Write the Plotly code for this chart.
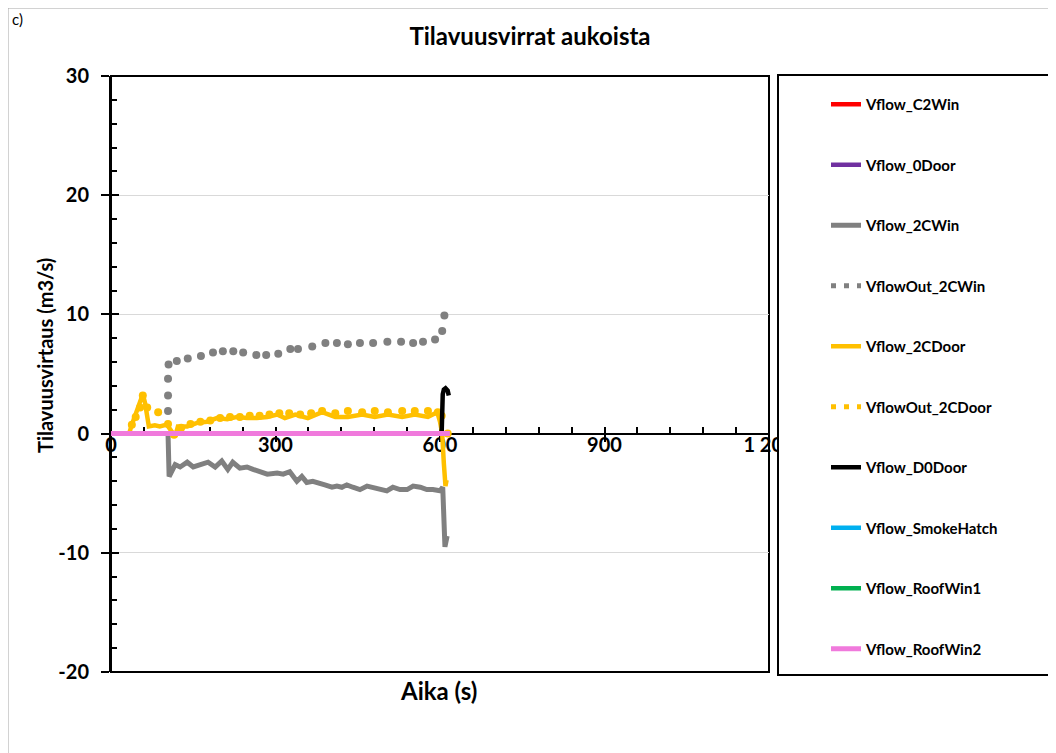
import plotly.graph_objects as go

# ---------------- data ----------------
t_zero = [0, 615]
v_zero = [0, 0]

t_2CWin = [0, 104, 106, 117, 126, 139, 150, 162, 177, 190, 202, 213, 222, 235, 248, 259,
           272, 285, 303, 314, 326, 339, 348, 357, 368, 378, 390, 403, 412, 421, 430, 441,
           454, 467, 478, 491, 503, 514, 527, 540, 551, 564, 576, 587, 600, 605, 607, 609, 613]
v_2CWin = [0, 0, -3.6, -2.6, -2.8, -2.4, -2.8, -2.6, -2.4, -2.8, -2.3, -3.0, -2.4, -2.9, -2.8, -3.0,
           -3.2, -3.4, -3.3, -3.4, -3.2, -4.0, -3.6, -4.1, -4.0, -4.1, -4.3, -4.5, -4.4, -4.5, -4.3, -4.5,
           -4.7, -4.4, -4.5, -4.7, -4.8, -4.5, -4.7, -4.7, -4.4, -4.5, -4.7, -4.7, -4.8, -4.5, -8.0, -9.5, -8.6]

t_Out2CWin = [104, 104, 104, 105, 120, 140, 164, 186, 204, 223, 241, 265, 283, 305, 327, 341,
              367, 391, 412, 432, 454, 478, 504, 529, 551, 569, 591, 604, 608]
v_Out2CWin = [1.9, 3.2, 4.6, 5.8, 6.1, 6.3, 6.5, 6.8, 6.9, 6.9, 6.8, 6.6, 6.6, 6.7, 7.1, 7.1,
              7.3, 7.6, 7.6, 7.5, 7.6, 7.6, 7.7, 7.7, 7.6, 7.7, 7.9, 8.6, 9.9]

t_2CDoor = [0, 33, 38, 47, 58, 62, 66, 69, 80, 89, 102, 108, 117, 122, 139, 157, 175, 193, 212,
            230, 248, 266, 285, 303, 317, 336, 359, 385, 409, 432, 458, 481, 505, 531, 554, 578,
            595, 600, 604, 607, 610, 612]
v_2CDoor = [0, 0, 0.75, 2.0, 3.3, 2.6, 1.6, 0.6, 0.7, 0.6, 0.75, 0.3, -0.25, 0.6, 0.6, 0.9, 1.0, 1.3, 1.2,
            1.4, 1.3, 1.3, 1.4, 1.6, 1.3, 1.6, 1.3, 1.8, 1.4, 1.4, 1.6, 1.4, 1.6, 1.4, 1.6, 1.4,
            1.8, 1.0, 0.0, -2.5, -4.4, -3.9]

t_Out2CDoor = [38, 45, 53, 58, 66, 86, 104, 115, 128, 145, 163, 181, 199, 217, 235, 253, 271, 289,
               307, 325, 345, 365, 385, 409, 432, 458, 481, 505, 531, 554, 578, 596, 603, 614]
v_Out2CDoor = [0.75, 1.4, 2.2, 3.2, 2.2, 1.8, 0.8, -0.1, 0.5, 0.8, 1.0, 1.1, 1.3, 1.4, 1.4, 1.5, 1.5, 1.6,
               1.7, 1.7, 1.6, 1.7, 1.9, 1.7, 1.9, 1.8, 1.9, 1.8, 1.9, 1.9, 1.9, 1.8, 1.5, 0.0]

t_D0Door = [0, 603, 605, 607, 610, 614, 616]
v_D0Door = [0, 0, 3.3, 3.7, 3.8, 3.6, 3.2]

t_RoofWin2 = [0, 618]
v_RoofWin2 = [0, 0]

x_tickvals = [0, 300, 600, 900, 1200]
x_ticktext = ["0", "300", "600", "900", "1 200"]
y_tickvals = [-20, -10, 0, 10, 20, 30]
y_ticktext = ["-20", "-10", "0", "10", "20", "30"]

# ---------------- figure ----------------
FONT = "Lato, 'Open Sans', sans-serif"
# the page body adds an 8px offset; the figure is sized so it ends at the window edge
W, H, OFF = 1048, 745, 8
fig = go.Figure()

def line_trace(name, t, v, color, width=4.5):
    fig.add_trace(go.Scatter(x=t, y=v, mode="lines", name=name,
                             line=dict(color=color, width=width),
                             legendgroup=name, hoverinfo="skip"))

def dot_trace(name, t, v, color):
    fig.add_trace(go.Scatter(x=t, y=v, mode="markers", name=name, showlegend=False,
                             marker=dict(color=color, size=8), legendgroup=name, hoverinfo="skip"))
    fig.add_trace(go.Scatter(x=[None], y=[None], mode="lines", name=name,
                             line=dict(color=color, width=5, dash="5px,8px"),
                             legendgroup=name))

line_trace("Vflow_C2Win", t_zero, v_zero, "#FF0000")
line_trace("Vflow_0Door", t_zero, v_zero, "#7030A0")
line_trace("Vflow_2CWin", t_2CWin, v_2CWin, "#808080", width=5)
dot_trace("VflowOut_2CWin", t_Out2CWin, v_Out2CWin, "#808080")
line_trace("Vflow_2CDoor", t_2CDoor, v_2CDoor, "#FFC000")
dot_trace("VflowOut_2CDoor", t_Out2CDoor, v_Out2CDoor, "#FFC000")
line_trace("Vflow_D0Door", t_D0Door, v_D0Door, "#000000")
line_trace("Vflow_SmokeHatch", t_zero, v_zero, "#00B0F0")
line_trace("Vflow_RoofWin1", t_zero, v_zero, "#00B050")
line_trace("Vflow_RoofWin2", t_RoofWin2, v_RoofWin2, "#F07ADC", width=5)

# dummy traces to create the overlay axes (inner halves of crossing ticks)
fig.add_trace(go.Scatter(x=[None], y=[None], xaxis="x2", yaxis="y", showlegend=False, hoverinfo="skip"))
fig.add_trace(go.Scatter(x=[None], y=[None], xaxis="x", yaxis="y2", showlegend=False, hoverinfo="skip"))

tickfont = dict(family=FONT, size=20, color="black", weight="bold")

fig.update_layout(
    width=W, height=H,
    margin=dict(l=111 - OFF, r=W - (769 - OFF), t=76 - OFF, b=H - (672 - OFF), autoexpand=False),
    paper_bgcolor="white", plot_bgcolor="white",
    title=dict(text="<b>Tilavuusvirrat aukoista</b>", x=(530 - OFF) / W, xref="container", xanchor="center",
               y=1 - (37 - OFF) / H, yref="container", yanchor="middle",
               font=dict(family=FONT, size=24, color="black")),
    xaxis=dict(range=[0, 1200], anchor="free", position=0.4, showline=True, linecolor="black",
               linewidth=2, ticks="outside", ticklen=7, tickwidth=2, tickcolor="black",
               tickmode="array", tickvals=x_tickvals, ticktext=x_ticktext, tickfont=tickfont,
               ticklabelstandoff=-14, layer="below traces",
               minor=dict(dtick=60, tick0=0, ticks="inside", ticklen=6, tickwidth=1.5, tickcolor="black"),
               showgrid=False, zeroline=False, fixedrange=True),
    xaxis2=dict(range=[0, 1200], overlaying="x", anchor="free", position=0.4, side="bottom",
                tickmode="array", tickvals=x_tickvals, ticks="inside", ticklen=7, tickwidth=2,
                tickcolor="black", showticklabels=False, showline=False, showgrid=False, zeroline=False,
                layer="below traces"),
    yaxis=dict(range=[-20, 30], tickmode="array", tickvals=y_tickvals, ticktext=y_ticktext,
               showline=True, linecolor="black",
               linewidth=2, ticks="outside", ticklen=8, tickwidth=2, tickcolor="black", tickfont=tickfont,
               ticklabelstandoff=8, layer="below traces",
               minor=dict(dtick=2, tick0=0, ticks="inside", ticklen=6, tickwidth=1.5, tickcolor="black"),
               showgrid=True, gridcolor="#D9D9D9", gridwidth=1, zeroline=False),
    yaxis2=dict(range=[-20, 30], overlaying="y", anchor="free", position=0, side="left",
                tickmode="array", tickvals=y_tickvals, ticks="inside", ticklen=7, tickwidth=2,
                tickcolor="black", showticklabels=False, showline=False, showgrid=False, zeroline=False,
                layer="below traces"),
    legend=dict(x=(826 - 111) / 658, y=(672 - 88) / 596, xanchor="left", yanchor="top",
                bgcolor="rgba(0,0,0,0)", borderwidth=0, traceorder="grouped", tracegroupgap=38,
                font=dict(family=FONT, size=15, color="black", weight="bold")),
    showlegend=True,
)

# plot frame
fig.add_shape(type="rect", xref="paper", yref="paper", x0=0, x1=1, y0=0, y1=1,
              line=dict(color="black", width=2), layer="below")
# outer chart border
fig.add_shape(type="rect", xref="paper", yref="paper", x0=(8 - 111) / 658, x1=2.0,
              y0=-1.0, y1=(672 - 8) / 596, line=dict(color="#A6A6A6", width=1), layer="below")
# legend box
fig.add_shape(type="rect", xref="paper", yref="paper", x0=(778 - 111) / 658, x1=1.7,
              y0=(672 - 675) / 596, y1=(672 - 75) / 596, fillcolor="white",
              line=dict(color="black", width=2), layer="above")

fig.add_annotation(text="<b>Tilavuusvirtaus (m3/s)</b>", xref="paper", yref="paper",
                   x=(45 - 111) / 658, y=(672 - 356) / 596, textangle=-90, showarrow=False,
                   xanchor="center", yanchor="middle",
                   font=dict(family=FONT, size=20, color="black"))
fig.add_annotation(text="<b>Aika (s)</b>", xref="paper", yref="paper",
                   x=(438 - 111) / 658, y=(672 - 690) / 596, showarrow=False,
                   xanchor="center", yanchor="middle",
                   font=dict(family=FONT, size=24, color="black"))
fig.add_annotation(text="c)", xref="paper", yref="paper", x=(10 - 111) / 658, y=(672 - 8) / 596,
                   xanchor="left", yanchor="top", showarrow=False,
                   font=dict(family=FONT, size=15, color="black"))

fig.write_html("out.html")
